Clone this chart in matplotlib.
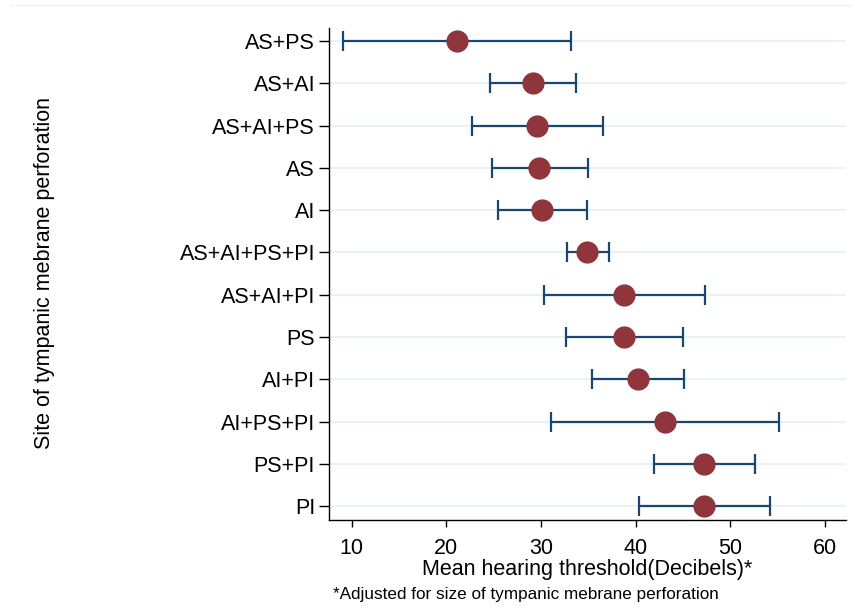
import matplotlib
matplotlib.use("Agg")
import matplotlib.pyplot as plt
from matplotlib.lines import Line2D

plt.rcParams['font.family'] = ['Liberation Sans', 'DejaVu Sans']

sites = ["AS+PS", "AS+AI", "AS+AI+PS", "AS", "AI", "AS+AI+PS+PI",
         "AS+AI+PI", "PS", "AI+PI", "AI+PS+PI", "PS+PI", "PI"]
means = [21.15, 29.18, 29.6, 29.78, 30.13, 34.88, 38.72, 38.79, 40.2, 43.08, 47.23, 47.23]
lower = [9.05, 24.64, 22.74, 24.78, 25.48, 32.7, 30.27, 32.6, 35.37, 31.08, 41.89, 40.34]
upper = [33.19, 33.65, 36.5, 34.92, 34.85, 37.14, 47.27, 45.02, 45.06, 55.09, 52.62, 54.17]
xticks = [10, 20, 30, 40, 50, 60]

n = len(sites)
ypos = [n - i for i in range(n)]

fig = plt.figure(figsize=(8.55, 6.08), dpi=100)
ax = fig.add_axes([329/855, 88/608, (846-329)/855, (520-28)/608])

for y in ypos:
    ax.axhline(y, color='#EAF2F3', lw=1.5, zorder=0)

err_lo = [m - l for m, l in zip(means, lower)]
err_hi = [u - m for m, u in zip(means, upper)]
ax.errorbar(means, ypos, xerr=[err_lo, err_hi], fmt='none', ecolor='#1A476F',
            elinewidth=1.6, capsize=7.5, capthick=1.6, zorder=2)
ax.plot(means, ypos, 'o', color='#90353B', markersize=16, zorder=3, markeredgewidth=0)

ax.set_xlim(7.6, 62.2)
ax.set_ylim(0.67, 12.31)
ax.set_xticks(xticks)
ax.set_xticklabels([str(t) for t in xticks], fontsize=15.5)
ax.set_yticks(ypos)
ax.set_yticklabels(sites, fontsize=15.5)
ax.tick_params(axis='y', length=7, width=1, pad=3)
ax.tick_params(axis='x', length=5, width=1, pad=8)
for s in ['top', 'right']:
    ax.spines[s].set_visible(False)
for s in ['left', 'bottom']:
    ax.spines[s].set_linewidth(1)
    ax.spines[s].set_color('black')

ax.set_xlabel("Mean hearing threshold(Decibels)*", fontsize=15.5, labelpad=0)
fig.text(45/855, 1 - 273/608, "Site of tympanic mebrane perforation", rotation=90,
         fontsize=15.5, ha='center', va='center')
fig.text(333/855, 1 - 594/608, "*Adjusted for size of tympanic mebrane perforation",
         fontsize=12.3, ha='left', va='center')

fig.add_artist(Line2D([10/855, 850/855], [1 - 5/608, 1 - 5/608], color='#EEF2F4', lw=1))

fig.savefig("out.png", dpi=100)
